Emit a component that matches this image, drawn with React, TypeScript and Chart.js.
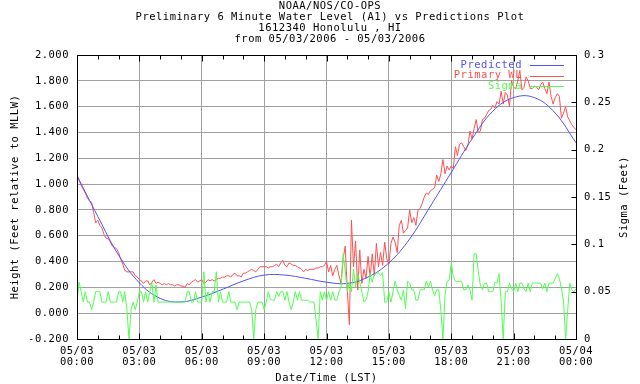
import React, { useEffect, useRef } from 'react';
import { Chart, registerables } from 'chart.js';

Chart.register(...registerables);

const FONT = '"DejaVu Sans Mono", "Liberation Mono", monospace';
const FONT_SIZE = 10.5;
const LETTER_SPACING = '0.5px';

const titleLines = [
  'NOAA/NOS/CO-OPS',
  'Preliminary 6 Minute Water Level (A1) vs Predictions Plot',
  '1612340 Honolulu , HI',
  'from 05/03/2006 - 05/03/2006',
];
const xAxisTitle = 'Date/Time (LST)';
const yAxisTitle = 'Height (Feet relative to MLLW)';
const y2AxisTitle = 'Sigma (Feet)';

const xTickDates = ['05/03', '05/03', '05/03', '05/03', '05/03', '05/03', '05/03', '05/03', '05/04'];
const xTickTimes = ['00:00', '03:00', '06:00', '09:00', '12:00', '15:00', '18:00', '21:00', '00:00'];

const legendItems = [
  { text: 'Predicted', color: '#5050ff' },
  { text: 'Primary WL', color: '#ff5050' },
  { text: 'Sigma', color: '#50ff50' },
];

// hours since 05/03 00:00
const predictedHours = [0, 1, 2, 3, 4, 5, 6, 7, 8, 9, 10, 11, 12, 13, 14, 15, 16, 17, 18, 19, 20, 21, 22, 23, 24];
const predicted = [
  1.065, 0.75, 0.45, 0.235, 0.115, 0.087, 0.125, 0.185, 0.25, 0.295, 0.295, 0.27, 0.24,
  0.23, 0.28, 0.39, 0.575, 0.83, 1.09, 1.35, 1.565, 1.67, 1.67, 1.55, 1.32,
];

// 6-minute samples (0.1 h apart), one row per hour
const sampleStepHours = 0.1;
const primaryWL = [
  1.07, 1.03, 0.99, 0.96, 0.93, 0.89, 0.87, 0.86, 0.78, 0.70,
  0.72, 0.68, 0.66, 0.61, 0.58, 0.58, 0.55, 0.52, 0.51, 0.50,
  0.47, 0.42, 0.38, 0.33, 0.32, 0.32, 0.32, 0.32, 0.29, 0.28,
  0.26, 0.25, 0.23, 0.25, 0.25, 0.22, 0.24, 0.26, 0.23, 0.24,
  0.23, 0.22, 0.23, 0.22, 0.23, 0.22, 0.22, 0.21, 0.22, 0.22,
  0.21, 0.21, 0.20, 0.23, 0.22, 0.24, 0.25, 0.26, 0.24, 0.25,
  0.26, 0.23, 0.24, 0.26, 0.25, 0.26, 0.25, 0.26, 0.27, 0.27,
  0.28, 0.28, 0.29, 0.29, 0.28, 0.30, 0.31, 0.29, 0.29, 0.28,
  0.31, 0.31, 0.32, 0.33, 0.34, 0.33, 0.32, 0.34, 0.36, 0.36,
  0.36, 0.36, 0.35, 0.36, 0.36, 0.37, 0.38, 0.36, 0.39, 0.41,
  0.37, 0.36, 0.39, 0.38, 0.37, 0.37, 0.36, 0.35, 0.34, 0.32,
  0.34, 0.33, 0.34, 0.34, 0.34, 0.35, 0.35, 0.36, 0.36, 0.37,
  0.40, 0.32, 0.37, 0.29, 0.34, 0.37, 0.29, 0.23, 0.42, 0.52,
  0.18, -0.09, 0.72, 0.36, 0.56, 0.18, 0.49, 0.23, 0.34, 0.27,
  0.44, 0.28, 0.46, 0.29, 0.54, 0.36, 0.47, 0.37, 0.55, 0.42,
  0.38, 0.54, 0.59, 0.55, 0.47, 0.68, 0.72, 0.62, 0.64, 0.66,
  0.80, 0.70, 0.74, 0.68, 0.80, 0.81, 0.85, 0.90, 0.93, 0.92,
  0.95, 0.96, 0.97, 1.07, 1.02, 1.08, 1.19, 1.08, 1.14, 1.11,
  1.14, 1.12, 1.29, 1.22, 1.31, 1.32, 1.29, 1.26, 1.30, 1.41,
  1.35, 1.43, 1.50, 1.40, 1.41, 1.50, 1.51, 1.54, 1.57, 1.58,
  1.61, 1.59, 1.64, 1.62, 1.72, 1.62, 1.71, 1.69, 1.60, 1.80,
  1.75, 1.74, 1.80, 1.88, 1.73, 1.75, 1.83, 1.80, 1.74, 1.74,
  1.76, 1.75, 1.73, 1.77, 1.79, 1.74, 1.70, 1.79, 1.68, 1.62,
  1.67, 1.70, 1.68, 1.51, 1.55, 1.60, 1.52, 1.49, 1.46, 1.44,
  1.42,
];

const sigma = [
  0.039, 0.060, 0.050, 0.039, 0.050, 0.039, 0.039, 0.031, 0.039, 0.050,
  0.050, 0.050, 0.039, 0.039, 0.039, 0.050, 0.039, 0.039, 0.039, 0.039,
  0.050, 0.050, 0.039, 0.050, 0.031, 0.000, 0.031, 0.039, 0.031, 0.039,
  0.050, 0.050, 0.039, 0.050, 0.039, 0.050, 0.060, 0.039, 0.057, 0.039,
  0.039, 0.039, 0.039, 0.039, 0.039, 0.039, 0.039, 0.039, 0.039, 0.039,
  0.039, 0.039, 0.039, 0.050, 0.050, 0.039, 0.039, 0.050, 0.039, 0.039,
  0.039, 0.071, 0.039, 0.050, 0.039, 0.050, 0.050, 0.071, 0.039, 0.050,
  0.039, 0.039, 0.039, 0.050, 0.039, 0.039, 0.039, 0.031, 0.039, 0.039,
  0.039, 0.039, 0.039, 0.039, 0.031, 0.000, 0.031, 0.039, 0.039, 0.039,
  0.031, 0.039, 0.050, 0.042, 0.041, 0.041, 0.050, 0.045, 0.050, 0.050,
  0.041, 0.050, 0.039, 0.031, 0.039, 0.050, 0.041, 0.050, 0.041, 0.041,
  0.041, 0.041, 0.039, 0.039, 0.039, 0.020, 0.000, 0.050, 0.041, 0.050,
  0.041, 0.050, 0.041, 0.050, 0.041, 0.041, 0.050, 0.055, 0.090, 0.072,
  0.050, 0.060, 0.050, 0.074, 0.055, 0.069, 0.060, 0.050, 0.039, 0.041,
  0.050, 0.069, 0.060, 0.068, 0.069, 0.070, 0.067, 0.070, 0.039, 0.039,
  0.050, 0.039, 0.050, 0.061, 0.052, 0.046, 0.041, 0.052, 0.032, 0.061,
  0.059, 0.052, 0.052, 0.041, 0.041, 0.052, 0.052, 0.052, 0.061, 0.055,
  0.061, 0.052, 0.046, 0.052, 0.052, 0.030, 0.000, 0.046, 0.061, 0.062,
  0.080, 0.066, 0.061, 0.061, 0.061, 0.061, 0.052, 0.052, 0.057, 0.052,
  0.041, 0.090, 0.090, 0.071, 0.057, 0.052, 0.059, 0.059, 0.050, 0.050,
  0.050, 0.060, 0.059, 0.069, 0.040, 0.000, 0.050, 0.050, 0.059, 0.053,
  0.050, 0.059, 0.050, 0.059, 0.059, 0.053, 0.050, 0.059, 0.050, 0.059,
  0.059, 0.059, 0.059, 0.059, 0.053, 0.059, 0.050, 0.059, 0.059, 0.059,
  0.064, 0.069, 0.064, 0.053, 0.040, 0.000, 0.030, 0.059, 0.052, 0.050,
  0.053,
];

const setSpacing = (chart: any) => {
  try { chart.ctx.letterSpacing = LETTER_SPACING; } catch (e) { /* ignore */ }
};

const decorPlugin = {
  id: 'decor',
  beforeInit: setSpacing,
  beforeLayout: setSpacing,
  beforeDraw: setSpacing,
  afterDraw(chart: any) {
    const { ctx, chartArea: a, scales } = chart;
    const xs = scales.x;
    const y2 = scales.y2;
    const L = Math.round(a.left) + 0.5;
    const R = Math.round(a.right) + 0.5;
    const T = Math.round(a.top) + 0.5;
    const B = Math.round(a.bottom) + 0.5;
    ctx.save();
    ctx.strokeStyle = '#000';
    ctx.lineWidth = 1;
    ctx.beginPath();
    ctx.moveTo(L, T);
    ctx.lineTo(R, T);
    ctx.lineTo(R, B);
    ctx.lineTo(L, B);
    ctx.closePath();
    ctx.stroke();
    ctx.beginPath();
    for (let h = 0; h <= 24; h++) {
      const px = Math.round(xs.getPixelForValue(h)) + 0.5;
      const len = h % 3 === 0 ? 6 : 4;
      ctx.moveTo(px, B);
      ctx.lineTo(px, B - len);
      ctx.moveTo(px, T);
      ctx.lineTo(px, T + len);
    }
    for (let i = 0; i <= 6; i++) {
      const py = Math.round(y2.getPixelForValue(i * 0.05)) + 0.5;
      ctx.moveTo(R, py);
      ctx.lineTo(R - 5, py);
    }
    ctx.stroke();

    ctx.font = `${FONT_SIZE}px ${FONT}`;
    try { ctx.letterSpacing = LETTER_SPACING; } catch (e) { /* ignore */ }
    ctx.textBaseline = 'middle';
    ctx.fillStyle = '#000';
    ctx.textAlign = 'center';
    titleLines.forEach((t, i) => ctx.fillText(t, 330, 6 + i * 11));
    ctx.fillText(xAxisTitle, (a.left + a.right) / 2, 378);
    const midY = (a.top + a.bottom) / 2;
    ctx.save();
    ctx.translate(15, midY);
    ctx.rotate(-Math.PI / 2);
    ctx.fillText(yAxisTitle, 0, 0);
    ctx.restore();
    ctx.save();
    ctx.translate(624, midY);
    ctx.rotate(-Math.PI / 2);
    ctx.fillText(y2AxisTitle, 0, 0);
    ctx.restore();

    legendItems.forEach((it, i) => {
      const y = 65 + i * 10.7;
      ctx.fillStyle = it.color;
      ctx.textAlign = 'right';
      ctx.fillText(it.text, 522, y);
      ctx.strokeStyle = it.color;
      ctx.beginPath();
      ctx.moveTo(530, Math.round(y) + 0.5);
      ctx.lineTo(564, Math.round(y) + 0.5);
      ctx.stroke();
    });
    ctx.restore();
  },
};

export default function App() {
  const canvasRef = useRef<HTMLCanvasElement | null>(null);

  useEffect(() => {
    document.body.style.margin = '0';
    const canvas = canvasRef.current;
    if (!canvas) return;
    const tickFont = { family: FONT, size: FONT_SIZE, lineHeight: '11px' };
    const chart = new Chart(canvas, {
      type: 'line',
      data: {
        datasets: [
          {
            label: 'Sigma',
            data: sigma.map((v, i) => ({ x: i * sampleStepHours, y: v })),
            yAxisID: 'y2',
            borderColor: legendItems[2].color,
            borderWidth: 1,
            pointRadius: 0,
            tension: 0,
            order: 0,
          },
          {
            label: 'Predicted',
            data: predicted.map((v, i) => ({ x: predictedHours[i], y: v })),
            yAxisID: 'y',
            borderColor: legendItems[0].color,
            borderWidth: 1,
            pointRadius: 0,
            tension: 0.4,
            order: 1,
          },
          {
            label: 'Primary WL',
            data: primaryWL.map((v, i) => ({ x: i * sampleStepHours, y: v })),
            yAxisID: 'y',
            borderColor: legendItems[1].color,
            borderWidth: 1,
            pointRadius: 0,
            tension: 0,
            order: 2,
          },
        ],
      },
      options: {
        responsive: false,
        animation: false,
        events: [],
        layout: { padding: { top: 55, left: 0, right: 0, bottom: 0 } },
        plugins: {
          legend: { display: false },
          tooltip: { enabled: false },
          title: { display: false },
        },
        scales: {
          x: {
            type: 'linear',
            min: 0,
            max: 24,
            afterFit: (s: any) => { s.height = 45; },
            ticks: {
              stepSize: 3,
              autoSkip: false,
              maxRotation: 0,
              padding: 6.5,
              color: '#000',
              font: tickFont as any,
              callback: (v: any) => {
                const i = Math.round(Number(v) / 3);
                return [xTickDates[i], xTickTimes[i]];
              },
            },
            grid: { color: '#a0a0a0', drawTicks: false, lineWidth: 1 },
            border: { display: false },
          },
          y: {
            position: 'left',
            min: -0.2,
            max: 2.0,
            afterFit: (s: any) => { s.width = 77; },
            ticks: {
              stepSize: 0.2,
              padding: 8,
              color: '#000',
              font: tickFont as any,
              callback: (v: any) => {
                const n = Math.abs(Number(v)) < 1e-9 ? 0 : Number(v);
                return n.toFixed(3);
              },
            },
            grid: { color: '#a0a0a0', drawTicks: false, lineWidth: 1 },
            border: { display: false },
          },
          y2: {
            position: 'right',
            min: 0,
            max: 0.3,
            afterFit: (s: any) => { s.width = 64; },
            ticks: {
              stepSize: 0.05,
              padding: 8,
              color: '#000',
              font: tickFont as any,
              callback: (v: any) => String(parseFloat(Number(v).toFixed(2))),
            },
            grid: { display: false, drawTicks: false },
            border: { display: false },
          },
        },
      },
      plugins: [decorPlugin],
    });
    return () => chart.destroy();
  }, []);

  return (
    <div style={{ width: 640, height: 384, background: '#fff' }}>
      <canvas ref={canvasRef} width={640} height={384} style={{ display: 'block' }} />
    </div>
  );
}
